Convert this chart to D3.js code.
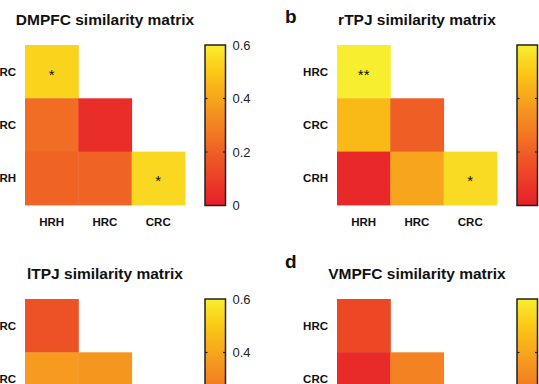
<!DOCTYPE html>
<html><head><meta charset="utf-8">
<script src="https://cdn.jsdelivr.net/npm/d3@7"></script>
<style>body{margin:0;background:#fff}svg{display:block}text{font-family:"Liberation Sans",Arial,sans-serif}</style>
</head><body><svg id="c" width="539" height="384"></svg>
<script>
const colLabels = ["HRH", "HRC", "CRC"];
const rowLabels = ["HRC", "CRC", "CRH"];
const panelTitles = ["DMPFC similarity matrix", "rTPJ similarity matrix", "lTPJ similarity matrix", "VMPFC similarity matrix"];
const panelLetters = ["", "b", "", "d"];
const tickValues = [0, 0.2, 0.4, 0.6];
const tickLabels = ["0", "0.2", "0.4", "0.6"];
// values: [row, col, value, stars]
const dmpfc = [[0,0,0.53,"*"],[1,0,0.24,""],[1,1,0.05,""],[2,0,0.21,""],[2,1,0.21,""],[2,2,0.54,"*"]];
const rtpj  = [[0,0,0.60,"**"],[1,0,0.46,""],[1,1,0.20,""],[2,0,0.03,""],[2,1,0.40,""],[2,2,0.55,"*"]];
const ltpj  = [[0,0,0.16,""],[1,0,0.37,""],[1,1,0.36,""]];
const vmpfc = [[0,0,0.13,""],[1,0,0.04,""],[1,1,0.30,""]];
const panelData = [dmpfc, rtpj, ltpj, vmpfc];
const showTickLabels = [true, false, true, false];

const cmapStops = ["#e61e2a","#eb3e27","#ef5f25","#f38322","#f7a51d","#fbc815","#f8ee30"];
const color = d3.scaleLinear().domain(d3.range(7).map(i=>i*0.1)).range(cmapStops).clamp(true);

const svg = d3.select("#c");
const defs = svg.append("defs");
const grad = defs.append("linearGradient").attr("id","cm").attr("x1",0).attr("x2",0).attr("y1",1).attr("y2",0);
d3.range(0,1.0001,0.05).forEach(t=>grad.append("stop").attr("offset",t).attr("stop-color",color(t*0.6)));

const origins = [[25,45],[337,45],[25,299],[337,299]];
const cell = 53.3;
const letterDy = [22, 22, 31, 31];

origins.forEach(([ox,oy],pi)=>{
  const g = svg.append("g").attr("transform",`translate(${ox},${oy})`);
  const x = d3.scaleBand().domain(colLabels).range([0,cell*3]);
  const y = d3.scaleBand().domain(rowLabels).range([0,cell*3]);
  const data = panelData[pi];
  g.selectAll("rect.cell").data(data).join("rect")
    .attr("x",d=>x(colLabels[d[1]])).attr("y",d=>y(rowLabels[d[0]]))
    .attr("width",x.bandwidth()+0.5).attr("height",y.bandwidth()+0.5)
    .attr("fill",d=>color(d[2]));
  g.selectAll("text.star").data(data.filter(d=>d[3])).join("text")
    .attr("x",d=>x(colLabels[d[1]])+x.bandwidth()/2).attr("y",d=>y(rowLabels[d[0]])+y.bandwidth()/2+8)
    .attr("text-anchor","middle").attr("font-size",15).attr("fill","#111").text(d=>d[3]);
  g.selectAll("text.row").data(rowLabels).join("text")
    .attr("x",-9).attr("y",d=>y(d)+y.bandwidth()/2+4)
    .attr("text-anchor","end").attr("font-size",11.5).attr("font-weight","bold").attr("fill","#111").text(d=>d);
  g.selectAll("text.col").data(colLabels).join("text")
    .attr("x",d=>x(d)+x.bandwidth()/2).attr("y",cell*3+21)
    .attr("text-anchor","middle").attr("font-size",11.5).attr("font-weight","bold").attr("fill","#111").text(d=>d);
  g.append("text").attr("x",cell*1.5).attr("y",-20).attr("text-anchor","middle")
    .attr("font-size",15.5).attr("font-weight","bold").attr("fill","#111").text(panelTitles[pi]);
  if(panelLetters[pi]) g.append("text").attr("x",-52).attr("y",-letterDy[pi])
    .attr("font-size",19).attr("font-weight","bold").attr("fill","#111").text(panelLetters[pi]);
  const cb = g.append("g").attr("transform",`translate(180,0)`);
  const cy = d3.scaleLinear().domain([0,0.6]).range([160.5,0]);
  const w = 20.5;
  cb.append("rect").attr("width",w).attr("height",cy(0)).attr("fill","url(#cm)")
    .attr("stroke","#222").attr("stroke-width",1.5);
  tickValues.filter(v=>v>0&&v<0.6).forEach(v=>{
    cb.append("line").attr("x1",0).attr("x2",2.5).attr("y1",cy(v)).attr("y2",cy(v)).attr("stroke","#222").attr("stroke-width",1.2);
    cb.append("line").attr("x1",w-2.5).attr("x2",w).attr("y1",cy(v)).attr("y2",cy(v)).attr("stroke","#222").attr("stroke-width",1.2);
  });
  if(showTickLabels[pi]){
    cb.selectAll("text.tk").data(tickValues).join("text")
      .attr("x",w+7).attr("y",d=>cy(d)+4.5).attr("font-size",13).attr("fill","#222")
      .text((d,i)=>tickLabels[i]);
  }
});
</script></body></html>
